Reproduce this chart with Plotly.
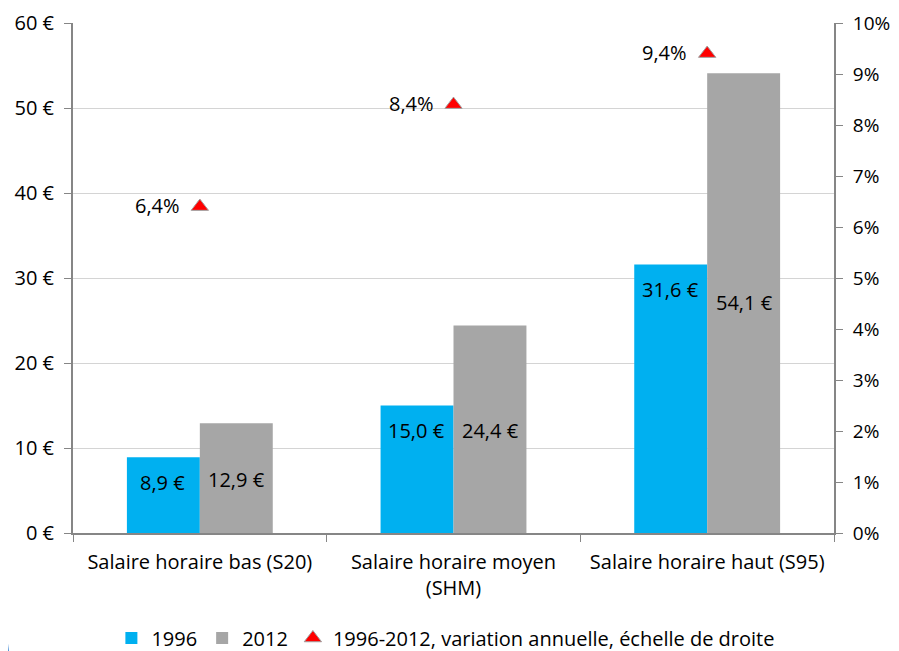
import plotly.graph_objects as go

categories = ["Salaire horaire bas (S20)", "Salaire horaire moyen<br>(SHM)", "Salaire horaire haut (S95)"]
values_1996 = [8.9, 15.0, 31.6]
values_2012 = [12.9, 24.4, 54.1]
variation = [6.4, 8.4, 9.4]
series_names = ["1996", "2012", "1996-2012, variation annuelle, échelle de droite"]
left_ticks = [0, 10, 20, 30, 40, 50, 60]
left_ticktext = ["0 €", "10 €", "20 €", "30 €", "40 €", "50 €", "60 €"]
right_ticks = [0, 1, 2, 3, 4, 5, 6, 7, 8, 9, 10]
right_ticktext = ["0%", "1%", "2%", "3%", "4%", "5%", "6%", "7%", "8%", "9%", "10%"]

FONT = "Open Sans"
FS = 20
BLUE = "#00B0F0"
GREY = "#A6A6A6"

# page is rendered with an 8px body margin; compensate so the plot lands where the reference has it
OFF = 8
W, H = 899 - OFF, 651 - OFF
L, R, T, B = 73 - OFF, 65, 23 - OFF, 118
PW, PH = W - L - R, H - T - B

fig = go.Figure()
fig.add_trace(go.Bar(x=categories, y=values_1996, name=series_names[0],
                     marker=dict(color=BLUE, line=dict(width=0))))
fig.add_trace(go.Bar(x=categories, y=values_2012, name=series_names[1],
                     marker=dict(color=GREY, line=dict(width=0))))
fig.add_trace(go.Scatter(x=categories, y=variation, name=series_names[2], yaxis="y2",
                         mode="markers",
                         marker=dict(symbol="triangle-up", size=15, color="#FF0000",
                                     line=dict(color="#A0A0A0", width=1))))

annotations = []
grey_extra = [3, 0, -13]
for i, c in enumerate(categories):
    annotations.append(dict(x=c, y=values_1996[i], xref="x", yref="y",
                            text=f"{values_1996[i]:.1f} €".replace(".", ","),
                            showarrow=False, xshift=-37, yshift=-25,
                            font=dict(family=FONT, size=FS, color="black")))
    annotations.append(dict(x=c, y=values_1996[i], xref="x", yref="y",
                            text=f"{values_2012[i]:.1f} €".replace(".", ","),
                            showarrow=False, xshift=37, yshift=-25 + grey_extra[i],
                            font=dict(family=FONT, size=FS, color="black")))
    annotations.append(dict(x=c, y=variation[i], xref="x", yref="y2",
                            text=f"{variation[i]:.1f}%".replace(".", ","),
                            showarrow=False, xanchor="right", xshift=-18, yshift=1,
                            font=dict(family=FONT, size=FS, color="black")))

fig.update_layout(
    width=W, height=H,
    margin=dict(l=L, r=R, t=T, b=B, autoexpand=False),
    plot_bgcolor="white", paper_bgcolor="white",
    barmode="group", bargap=0.425, bargroupgap=0,
    font=dict(family=FONT, size=FS, color="black"),
    xaxis=dict(type="category", tickson="boundaries", ticks="outside", ticklen=7,
               tickcolor="#868686", showline=True, linecolor="#868686", linewidth=2,
               tickfont=dict(size=FS), showgrid=False, ticklabelstandoff=10),
    yaxis=dict(range=[0, 60], tickmode="array", tickvals=left_ticks, ticktext=left_ticktext,
               ticks="outside", ticklen=7, tickcolor="#868686", showline=True,
               linecolor="#868686", linewidth=2, showgrid=True, gridcolor="#D4D4D4",
               gridwidth=1, zeroline=False, tickfont=dict(size=FS), ticklabelstandoff=6),
    yaxis2=dict(range=[0, 10], tickmode="array", tickvals=right_ticks, ticktext=right_ticktext,
                overlaying="y", side="right", ticks="outside", ticklen=7,
                tickcolor="#868686", showline=True, linecolor="#868686", linewidth=2,
                showgrid=False, zeroline=False, tickfont=dict(size=FS - 1), ticklabelstandoff=6),
    legend=dict(orientation="h", x=0.49, xanchor="center",
                y=(T + PH - (638 - OFF)) / PH, yanchor="middle",
                font=dict(size=FS), traceorder="normal"),
    annotations=annotations,
    showlegend=True,
)

def px(x):
    return (x - OFF - L) / PW

def py(y):
    return (T + PH - (y - OFF)) / PH

fig.add_shape(type="path", xref="paper", yref="paper",
              path=f"M {px(0)} {py(598)} L {px(2)} {py(598)} L {px(9)} {py(651)} L {px(0)} {py(651)} Z",
              fillcolor="#4A8FD8", line=dict(width=0))

fig.write_html("out.html")
